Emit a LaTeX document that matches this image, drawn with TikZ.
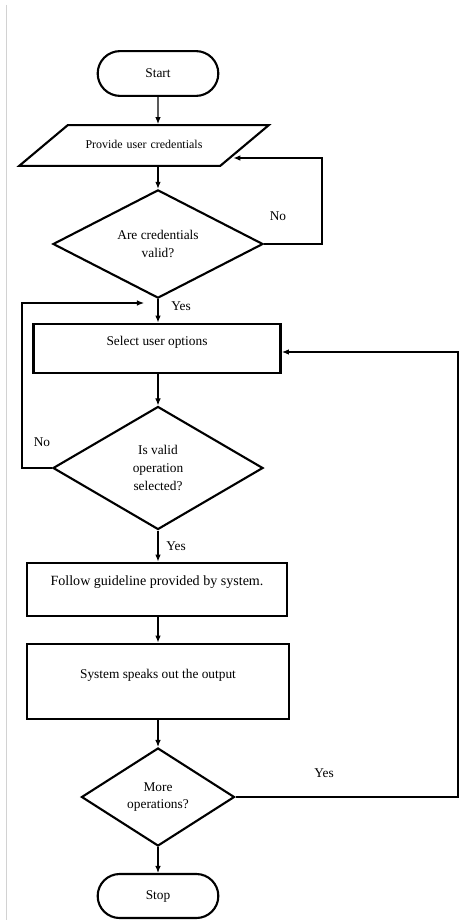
\documentclass[tikz,border=0pt]{standalone}
\usepackage{fontspec}
\setmainfont{Liberation Serif}
\usetikzlibrary{shapes.geometric,shapes.misc,arrows.meta}

\begin{document}
\begin{tikzpicture}[x=0.025cm, y=-0.025cm, >={Latex[length=5pt,width=4pt]},
    every node/.style={font=\fontsize{9.5}{12.5}\selectfont},
    term/.style={draw, line width=1.5pt, rounded rectangle, minimum width=3.25cm, minimum height=1.12cm},
    io/.style={draw, line width=1.5pt, trapezium, trapezium left angle=40, trapezium right angle=140,
        text width=3.5cm, align=center, text height=6pt, text depth=2pt, inner xsep=4.4pt, inner ysep=10.5pt,
        font=\fontsize{8.5}{10}\selectfont},
    decision/.style={draw, line width=1.5pt, diamond, align=center, inner sep=0pt},
    process/.style={draw, line width=2pt, align=center}]

    \useasboundingbox (0,0) rectangle (461,920);
    \draw[gray!35, line width=1pt] (6.5,5) -- (6.5,920);

    \node[term] (start) at (158,73.5) {Start};
    \node[io] (cred) at (144,145.5) {Provide user credentials};
    \node[decision, minimum width=5.25cm, minimum height=2.325cm] (valid) at (158,244) {Are credentials \\ valid?};
    \node[process, minimum width=6.175cm, minimum height=1.225cm, text depth=11pt] (select) at (157,348.5) {Select user options};
    \node[decision, minimum width=5.25cm, minimum height=3.075cm] (oper) at (158,468) {Is valid \\ operation \\ selected?};
    \node[process, minimum width=6.5cm, minimum height=1.325cm, text depth=12.5pt, font=\fontsize{10}{12}\selectfont] (follow) at (157,589.5) {Follow guideline provided by system.};
    \node[process, minimum width=6.55cm, minimum height=1.875cm, text depth=11.5pt] (speak) at (158,681.5) {System speaks out the output};
    \node[decision, minimum width=3.825cm, minimum height=2.45cm] (more) at (158,797) {More \\ operations?};
    \node[term, minimum height=1.1cm] (stop) at (158,896) {Stop};

    \coordinate (noRight) at (322,158);
    \coordinate (noLeft) at (22,303);
    \coordinate (yesRight) at (458,352);

    \draw[->, thick] (start) -- (start |- cred.north);
    \draw[->, thick] (cred.south -| valid) -- (valid.north);
    \draw[->, thick] (valid.east) -| (noRight) -- ([xshift=0.32cm]cred.bottom right corner |- noRight);
    \draw[->, thick] (valid.south) -- (valid.south |- select.north);
    \draw[->, thick] (select.south -| oper) -- (oper.north);
    \draw[->, thick] (oper.west) -| (noLeft) -- ([xshift=-0.35cm]valid.south |- noLeft);
    \draw[->, thick] (oper.south) -- (oper.south |- follow.north);
    \draw[->, thick] (follow.south -| speak) -- (speak.north);
    \draw[->, thick] (speak.south -| more) -- (more.north);
    \draw[->, thick] (more.east) -| (yesRight) -- (select.east |- yesRight);
    \draw[->, thick] (more.south) -- (stop.north);

    \node (noA) at (278,216) {No};
    \node (yesA) at (181,306) {Yes};
    \node (noB) at (42,442) {No};
    \node (yesB) at (176,546) {Yes};
    \node (yesC) at (324,773) {Yes};
\end{tikzpicture}
\end{document}
